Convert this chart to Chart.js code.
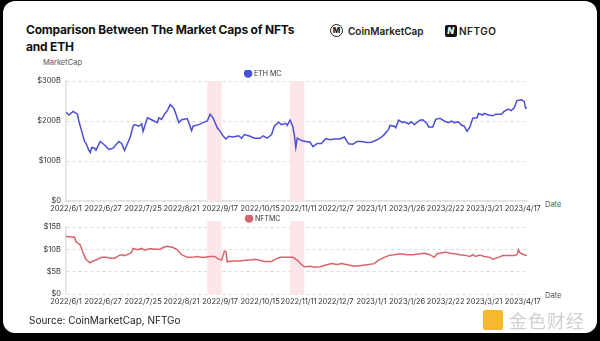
<!DOCTYPE html>
<html>
<head>
<meta charset="utf-8">
<script src="https://cdn.jsdelivr.net/npm/chart.js@4.4.0/dist/chart.umd.min.js"></script>
<style>
  html, body { margin: 0; padding: 0; background: #000; }
  body { width: 600px; height: 341px; position: relative; overflow: hidden; font-family: Inter, "Noto Sans", sans-serif; }
  .card { position: absolute; left: 3px; top: 1px; width: 594px; height: 332px; background: #fff; border-radius: 12px; }
  .abs { position: absolute; }
  #title { left: 26px; top: 21px; font-size: 12px; font-weight: 700; line-height: 17px; color: #111; letter-spacing: -0.2px; }
  #cmc { left: 330px; top: 24px; font-size: 10px; font-weight: 600; color: #222; display: flex; align-items: center; }
  #cmc .ico { width: 13px; height: 13px; border: 1.6px solid #222; border-radius: 50%; margin-right: 5px; font-size: 8px; line-height: 10px; text-align: center; font-weight: 800; box-sizing: border-box; }
  #nftgo { left: 445px; top: 25px; font-size: 10px; font-weight: 600; color: #222; display: flex; align-items: center; letter-spacing: 0.5px; }
  #nftgo .ico { width: 12px; height: 12px; background: #111; color: #fff; border-radius: 2px; font-size: 9px; font-style: italic; font-weight: 800; line-height: 12px; text-align: center; margin-right: 2px; }
  .small { font-size: 7.5px; color: #555; }
  #src { left: 29px; top: 314px; font-size: 10px; color: #222; }
  #wm { left: 483px; top: 307px; display: flex; align-items: center; }
  #wm .ico { width: 20px; height: 20px; background: #f5b82e; border-radius: 2px; margin-right: 6px; }
  #wm span { font-size: 18px; color: #d0d0d0; font-family: "Noto Sans CJK SC", sans-serif; letter-spacing: 1px; }
  .box { position: absolute; left: 0; width: 600px; }
</style>
</head>
<body>
<div class="card"></div>
<div id="title" class="abs">Comparison Between The Market Caps of NFTs<br>and ETH</div>
<div id="cmc" class="abs"><div class="ico">M</div>CoinMarketCap</div>
<div id="nftgo" class="abs"><div class="ico">N</div>NFTGO</div>
<div class="abs small" style="left:43px;top:58px;">MarketCap</div>
<div class="abs small" style="left:545px;top:200px;">Date</div>
<div class="abs small" style="left:545px;top:291px;">Date</div>
<div class="box" style="top:70px;height:146px;"><canvas id="ethChart"></canvas></div>
<div class="box" style="top:215px;height:94px;"><canvas id="nftChart"></canvas></div>
<div id="src" class="abs">Source: CoinMarketCap, NFTGo</div>
<div id="wm" class="abs"><div class="ico"></div><span>金色财经</span></div>
<script>
// days counted from 2022/6/1
const tickDays = [0, 26, 54, 81, 108, 136, 163, 189, 214, 239, 266, 293, 320];
const tickLabels = ['2022/6/1', '2022/6/27', '2022/7/25', '2022/8/21', '2022/9/17', '2022/10/15', '2022/11/11',
  '2022/12/7', '2023/1/1', '2023/1/26', '2023/2/22', '2023/3/21', '2023/4/17'];
const bandStarts = [99, 157];
const bandEnds = [109, 167];

const ethDays = [0,2,5,8,9,11,13,14,16,17,18,20,21,24,27,30,33,37,39,41,45,47,48,51,53,54,57,60,64,65,67,69,71,73,75,76,79,81,85,88,89,93,96,99,101,103,106,108,110,112,114,117,121,123,125,129,132,136,138,141,144,146,149,151,154,155,157,158,159,160,161,162,165,168,171,173,176,179,182,185,188,192,195,198,201,204,207,211,214,218,220,223,226,227,230,231,233,236,237,240,242,244,248,250,253,254,257,259,262,265,268,270,272,275,277,279,281,283,285,288,289,292,293,296,299,301,305,307,310,312,314,316,319,321,322,323];
const ethValues = [222,215,224,217,200,174,149,144,127,121,134,132,127,149,140,129,132,149,144,126,160,187,191,187,193,174,208,203,196,208,204,217,226,241,234,228,196,203,206,176,187,191,196,200,217,208,183,174,163,155,162,160,163,157,166,162,157,157,163,157,166,187,197,191,194,189,202,195,185,165,134,157,151,149,147,136,144,144,156,153,155,155,160,143,142,149,149,146,147,153,157,166,179,189,187,183,202,196,198,193,198,191,202,203,193,185,185,204,207,200,196,200,196,198,190,187,174,185,207,208,219,215,219,215,213,217,217,224,230,226,233,251,253,249,232,234];

const nftDays = [0,6,7,10,12,14,17,19,21,25,28,32,34,37,39,41,45,46,47,50,53,55,59,62,66,68,71,75,78,81,85,88,92,96,101,104,107,109,111,112,113,117,122,127,130,132,135,139,144,146,150,155,159,162,165,167,171,174,178,181,186,190,193,198,202,207,212,216,219,223,227,230,234,239,243,248,251,255,258,260,263,266,269,272,276,279,283,285,287,290,293,297,299,303,306,311,314,316,317,318,321,323];
const nftValues = [12.9,12.7,11.7,11.0,9.2,7.7,7.0,7.4,7.6,8.2,8.2,8.0,8.0,8.6,8.8,8.6,9.1,9.4,10.2,9.9,10.2,9.8,10.2,10.0,10.0,10.4,10.7,10.4,9.9,8.8,8.2,8.2,8.4,8.2,8.4,8.4,7.8,7.6,9.6,9.5,7.2,7.4,7.4,7.6,7.6,7.8,7.6,7.3,7.3,7.7,8.2,8.2,8.2,7.6,6.6,6.1,6.2,6.0,6.1,6.4,6.8,6.6,6.8,6.5,6.2,6.4,6.6,6.8,7.6,8.2,8.7,8.8,9.0,8.8,8.8,9.0,9.1,8.8,8.2,9.0,9.2,9.4,9.1,9.0,8.8,8.7,8.4,8.8,8.4,8.7,8.4,8.2,7.8,8.2,8.6,8.6,8.6,8.8,9.9,9.2,8.8,8.6];

Chart.defaults.font.family = 'Inter, "Noto Sans", sans-serif';
Chart.defaults.color = '#333';

const bands = {
  id: 'bands',
  beforeDatasetsDraw(chart, args, opts) {
    const ctx = chart.ctx, x = chart.scales.x, a = chart.chartArea;
    const top = a.top - (opts.extra || 0);
    ctx.save();
    ctx.fillStyle = '#fde6e9';
    for (let i = 0; i < bandStarts.length; i++) {
      const x1 = x.getPixelForValue(bandStarts[i]);
      const x2 = x.getPixelForValue(bandEnds[i]);
      ctx.fillRect(x1, top, x2 - x1, a.bottom - top);
    }
    ctx.restore();
  }
};

// legend box in chart.js always keeps 10px below the items, trim some of it
const tightLegend = {
  id: 'tightLegend',
  afterInit(chart, args, opts) {
    const lg = chart.legend;
    if (!lg) return;
    const fit = lg.fit;
    lg.fit = function () { fit.call(this); this.height -= opts.trim || 0; };
  }
};

function makeChart(id, label, days, values, color, yMax, yStep, bandExtra, trim, showBorder) {
  return new Chart(document.getElementById(id), {
    type: 'line',
    data: {
      datasets: [{
        label: label,
        data: days.map((d, i) => ({ x: d, y: values[i] })),
        borderColor: color,
        backgroundColor: color,
        borderWidth: 1.5,
        pointRadius: 0,
        tension: 0
      }]
    },
    options: {
      maintainAspectRatio: false,
      responsive: true,
      animation: false,
      layout: { padding: { left: 0, right: 73, top: 0, bottom: 0 } },
      plugins: {
        legend: {
          display: true,
          labels: { usePointStyle: true, pointStyle: 'circle', boxWidth: 5, boxHeight: 5, padding: 0, font: { size: 7 } }
        },
        tooltip: { enabled: false },
        bands: { extra: bandExtra },
        tightLegend: { trim: trim }
      },
      scales: {
        x: {
          type: 'linear',
          min: 0,
          max: 323,
          afterBuildTicks: s => { s.ticks = tickDays.map(v => ({ value: v })); },
          ticks: {
            autoSkip: false,
            maxRotation: 0,
            padding: 3,
            font: { size: 7.5 },
            callback: v => tickLabels[tickDays.indexOf(v)]
          },
          grid: { display: false, drawTicks: false, tickLength: 0 },
          border: { display: showBorder, color: '#e2e2e2', width: 1.5 }
        },
        y: {
          min: 0,
          max: yMax,
          afterFit: s => { s.width = 66; },
          ticks: {
            stepSize: yStep,
            padding: 5,
            font: { size: 7.5 },
            callback: v => v === 0 ? '$0' : '$' + v + 'B'
          },
          grid: { color: '#dcdcdc', tickLength: 0 },
          border: { display: true, color: '#e2e2e2', dash: [3, 3], width: 1.5 }
        }
      }
    },
    plugins: [bands, tightLegend]
  });
}

makeChart('ethChart', 'ETH MC', ethDays, ethValues, '#4a4ed8', 300, 100, 0, 6, true);
makeChart('nftChart', 'NFTMC', nftDays, nftValues, '#d7646b', 15, 5, 6, 5, false);
</script>
</body>
</html>
